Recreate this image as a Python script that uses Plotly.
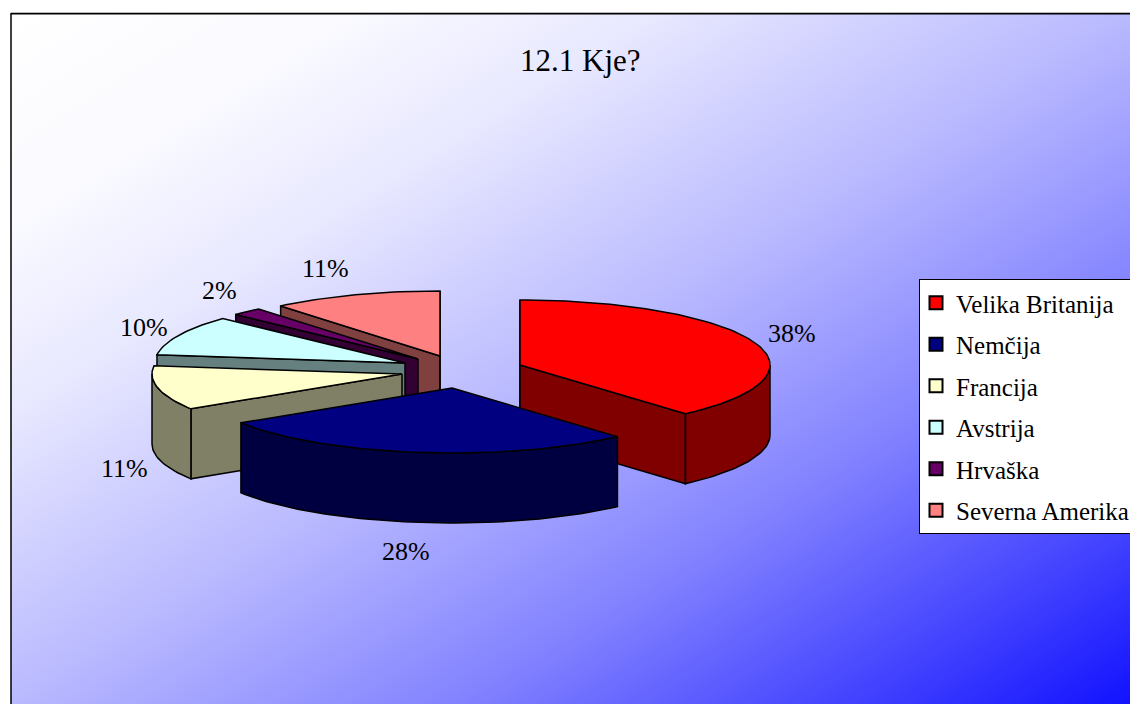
import math
import plotly.graph_objects as go

# ---- data ----
categories = ["Velika Britanija", "Nemčija", "Francija", "Avstrija", "Hrvaška", "Severna Amerika"]
values = [38.49, 27.51, 11, 10, 2, 11]
colors = ["#ff0000", "#000080", "#ffffcc", "#ccffff", "#660066", "#ff8080"]
side_colors = ["#800000", "#000040", "#808066", "#668080", "#330033", "#804040"]
title_text = "12.1 Kje?"

# ---- style / layout constants (pixels of the 1130x704 page) ----
W, H = 1130, 704
RX, RY, DEPTH = 250, 65, 70
centres = [(520, 365), (452, 388), (402, 374), (405, 363), (418, 359), (440, 356)]
label_pos = [(792, 333), (406, 551), (124, 468), (144, 327), (219, 290), (325, 268)]
draw_order = [5, 4, 3, 2, 0, 1]
FONT = "Liberation Serif"
EDGE = dict(color="black", width=1.5)
grad_stops = [(0, 255), (0.15, 250), (0.29, 232), (0.5, 185), (0.7, 130), (0.89, 60), (1, 18)]


def rim(c, deg, drop=0.0):
    a = math.radians(deg)
    return c[0] + RX * math.sin(a), c[1] - RY * math.cos(a) + drop


def arc(c, a0, a1, drop=0.0):
    n = max(2, int(abs(a1 - a0) / 1.5) + 1)
    return [rim(c, a0 + (a1 - a0) * i / (n - 1), drop) for i in range(n)]


def poly(pts, fill):
    xs = [p[0] for p in pts] + [pts[0][0]]
    ys = [p[1] for p in pts] + [pts[0][1]]
    return go.Scatter(x=xs, y=ys, mode="lines", fill="toself", fillcolor=fill, line=EDGE,
                      hoverinfo="skip", showlegend=False)


total = sum(values)
starts, acc = [], 0.0
for v in values:
    starts.append(acc)
    acc += v / total * 360

fig = go.Figure()
for i in draw_order:
    c = centres[i]
    a0 = starts[i]
    a1 = a0 + values[i] / total * 360
    low = (c[0], c[1] + DEPTH)
    # radial faces turned towards the viewer
    if math.sin(math.radians(a0)) <= 0:
        fig.add_trace(poly([c, rim(c, a0), rim(c, a0, DEPTH), low], side_colors[i]))
    if math.sin(math.radians(a1)) >= 0:
        fig.add_trace(poly([c, rim(c, a1), rim(c, a1, DEPTH), low], side_colors[i]))
    # outer wall (front half of the rim)
    w0, w1 = max(a0, 90), min(a1, 270)
    if w1 > w0:
        fig.add_trace(poly(arc(c, w0, w1) + arc(c, w1, w0, DEPTH), side_colors[i]))
    # top face
    fig.add_trace(poly([c] + arc(c, a0, a1), colors[i]))

# legend entries
for name, col in zip(categories, colors):
    fig.add_trace(go.Scatter(x=[None], y=[None], mode="markers", name=name, legendgroup=name,
                             marker=dict(symbol="square", size=13, color=col,
                                         line=dict(color="black", width=2))))

# percentage labels
for v, (lx, ly) in zip(values, label_pos):
    fig.add_annotation(x=lx, y=ly, text=f"{round(v / total * 100)}%", showarrow=False,
                       font=dict(family=FONT, size=26, color="black"))
fig.add_annotation(x=580, y=60, text=title_text, showarrow=False,
                   font=dict(family=FONT, size=31, color="black"))

stops = "".join(f"<stop offset='{t}' stop-color='rgb({g},{g},255)'/>" for t, g in grad_stops)
gradient = ("data:image/svg+xml;utf8,"
            "<svg xmlns='http://www.w3.org/2000/svg' width='1118' height='691' preserveAspectRatio='none'>"
            "<defs><linearGradient id='g' x1='0' y1='0' x2='1' y2='1'>" + stops +
            "</linearGradient></defs><rect width='1118' height='691' fill='url(%23g)'/></svg>")

fig.update_layout(
    width=W, height=H,
    margin=dict(l=0, r=0, t=0, b=0, autoexpand=False),
    paper_bgcolor="white", plot_bgcolor="rgba(0,0,0,0)",
    xaxis=dict(range=[0, W], visible=False, fixedrange=True),
    yaxis=dict(range=[H, 0], visible=False, fixedrange=True),
    images=[dict(source=gradient, xref="x", yref="y", x=11, y=13, sizex=W - 11, sizey=H - 13,
                 xanchor="left", yanchor="top", sizing="stretch", layer="below")],
    shapes=[
        dict(type="line", x0=11, x1=11, y0=13, y1=H, line=dict(color="black", width=1.5), layer="above"),
        dict(type="line", x0=11, x1=W, y0=12.5, y1=12.5, line=dict(color="#b8b8b8", width=1), layer="above"),
        dict(type="line", x0=11, x1=W, y0=13.8, y1=13.8, line=dict(color="black", width=1.5), layer="above"),
    ],
    legend=dict(x=919 / W, xanchor="left", y=1 - 279 / H, yanchor="top",
                bgcolor="white", bordercolor="black", borderwidth=1,
                font=dict(family=FONT, size=25, color="black"), indentation=-4,
                tracegroupgap=6, traceorder="grouped", itemclick=False, itemdoubleclick=False),
    showlegend=True,
    hovermode=False,
)

fig.write_html("out.html", config={"displayModeBar": False},
               post_script="document.body.style.margin='0';document.documentElement.style.overflow='hidden';")
